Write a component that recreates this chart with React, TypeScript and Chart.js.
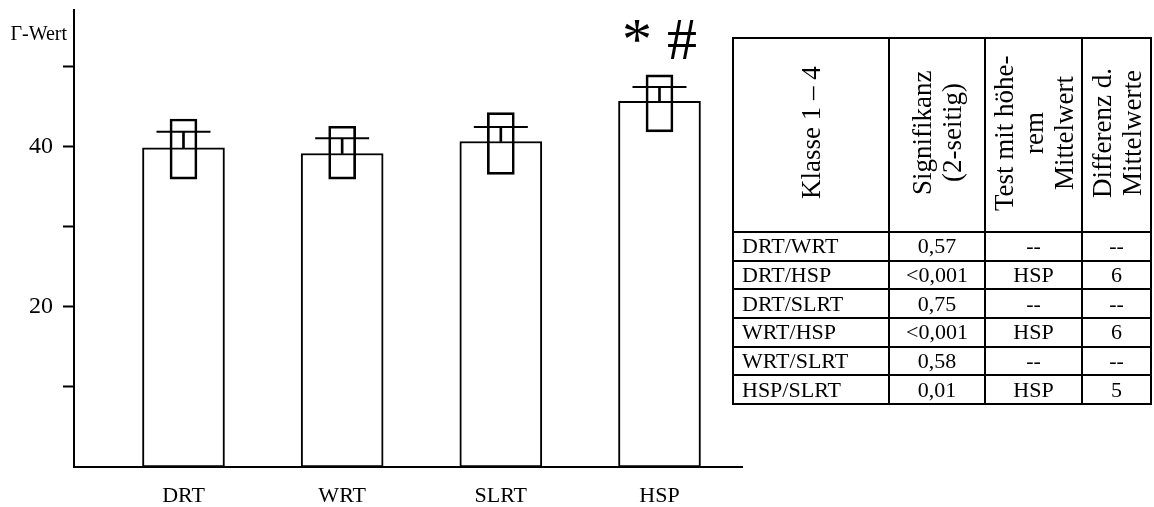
import React, { useEffect, useRef } from 'react';
import { Chart, registerables } from 'chart.js';

Chart.register(...registerables);

const FONT = "'Liberation Serif', 'Times New Roman', Times, serif";

// ---- chart data ----
const categories = ['DRT', 'WRT', 'SLRT', 'HSP'];
const means = [39.8, 39.1, 40.6, 45.6];
const boxLow = [35.9, 35.9, 36.5, 41.8];
const boxHigh = [43.4, 42.5, 44.2, 48.9];
const errorTop = [41.8, 41.0, 42.4, 47.4];
const significance = ['', '', '', '* #'];
const yTicks = [10, 20, 30, 40, 50];
const yTickLabels = [20, 40];
const yAxisTitle = 'Γ-Wert';

// ---- table data ----
const headerLines = [
  ['Klasse 1 – 4'],
  ['Signifikanz', '(2-seitig)'],
  ['Test mit höhe-', 'rem', 'Mittelwert'],
  ['Differenz d.', 'Mittelwerte'],
];
const pairs = ['DRT/WRT', 'DRT/HSP', 'DRT/SLRT', 'WRT/HSP', 'WRT/SLRT', 'HSP/SLRT'];
const significanceValues = ['0,57', '<0,001', '0,75', '<0,001', '0,58', '0,01'];
const higherMean = ['--', 'HSP', '--', 'HSP', '--', 'HSP'];
const meanDiff = ['--', '6', '--', '6', '--', '5'];

const annotatePlugin = {
  id: 'annotate',
  afterDraw(chart: any) {
    const { ctx, scales, chartArea } = chart;
    const x = scales.x;
    const y = scales.y;
    ctx.save();
    ctx.fillStyle = '#000';
    ctx.font = `20px ${FONT}`;
    ctx.textAlign = 'right';
    ctx.textBaseline = 'alphabetic';
    ctx.fillText(yAxisTitle, chartArea.left - 7, 40);
    ctx.font = `60px ${FONT}`;
    ctx.textAlign = 'center';
    significance.forEach((s, i) => {
      if (s) ctx.fillText(s, x.getPixelForValue(i), y.getPixelForValue(boxHigh[i]) - 16);
    });
    ctx.restore();
  },
};

function BarChart() {
  const ref = useRef<HTMLCanvasElement | null>(null);
  useEffect(() => {
    if (!ref.current) return;
    const chart = new Chart(ref.current, {
      type: 'bar',
      data: {
        datasets: [
          {
            type: 'scatter',
            data: errorTop.map((v, i) => ({ x: i, y: v })),
            pointStyle: 'line',
            pointRadius: 27,
            pointHoverRadius: 27,
            borderColor: '#000',
            backgroundColor: '#000',
            borderWidth: 2,
            showLine: false,
            order: 1,
          } as any,
          {
            type: 'bar',
            data: means.map((m, i) => ({ x: i, y: [m, errorTop[i]] })),
            backgroundColor: '#000',
            borderWidth: 0,
            barThickness: 2,
            grouped: false,
            order: 2,
          } as any,
          {
            type: 'bar',
            data: boxLow.map((lo, i) => ({ x: i, y: [lo, boxHigh[i]] })),
            backgroundColor: 'rgba(0,0,0,0)',
            borderColor: '#000',
            borderWidth: 2,
            borderSkipped: false,
            barThickness: 27,
            grouped: false,
            order: 3,
          } as any,
          {
            type: 'bar',
            data: means.map((m, i) => ({ x: i, y: m })),
            backgroundColor: '#fff',
            borderColor: '#000',
            borderWidth: 2,
            borderSkipped: false,
            barThickness: 82,
            grouped: false,
            order: 4,
          } as any,
        ],
      },
      options: {
        animation: false,
        responsive: false,
        maintainAspectRatio: false,
        events: [],
        layout: { autoPadding: false, padding: { left: 0, top: 10, right: 18, bottom: 0 } },
        plugins: { legend: { display: false }, tooltip: { enabled: false } },
        scales: {
          x: {
            type: 'linear',
            min: -0.69,
            max: 3.52,
            offset: false,
            afterBuildTicks: (s: any) => {
              s.ticks = categories.map((_, i) => ({ value: i }));
            },
            afterFit: (s: any) => {
              s.height = 40;
              s.paddingLeft = 0;
              s.paddingRight = 0;
            },
            ticks: {
              callback: (v: any) => categories[v] ?? '',
              font: { family: FONT, size: 22 },
              color: '#000',
              padding: 16,
              autoSkip: false,
              maxRotation: 0,
            },
            grid: { display: false, drawOnChartArea: false, drawTicks: false },
            border: { display: true, color: '#000', width: 2 },
          },
          y: {
            type: 'linear',
            min: 0,
            max: 57,
            afterBuildTicks: (s: any) => {
              s.ticks = yTicks.map((v) => ({ value: v }));
            },
            afterFit: (s: any) => {
              s.width = 74;
              s.paddingTop = 0;
              s.paddingBottom = 0;
            },
            ticks: {
              callback: (v: any) => (yTickLabels.includes(v) ? String(v) : ''),
              font: { family: FONT, size: 24 },
              color: '#000',
              padding: 10,
            },
            grid: {
              drawOnChartArea: false,
              drawTicks: true,
              tickLength: 11,
              tickColor: '#000',
              tickWidth: 2,
            },
            border: { display: true, color: '#000', width: 2 },
          },
        },
      } as any,
      plugins: [annotatePlugin],
    });
    return () => chart.destroy();
  }, []);
  return <canvas ref={ref} width={760} height={507} style={{ width: 760, height: 507, display: 'block' }} />;
}

const cellBorder = '2px solid #000';
const bodyCell = { border: cellBorder, padding: 0, fontSize: 22, lineHeight: '24px', textAlign: 'center' as const, whiteSpace: 'nowrap' as const };

function StatsTable() {
  const colWidths = [156, 96, 97, 69];
  return (
    <table
      style={{
        position: 'absolute',
        left: 732,
        top: 37,
        borderCollapse: 'collapse',
        tableLayout: 'fixed',
        width: 420,
        border: cellBorder,
        fontFamily: FONT,
        color: '#000',
      }}
    >
      <colgroup>
        {colWidths.map((w, i) => (
          <col key={i} style={{ width: w }} />
        ))}
      </colgroup>
      <tbody>
        <tr style={{ height: 192 }}>
          {headerLines.map((lines, i) => (
            <td key={i} style={{ border: cellBorder, padding: 0, textAlign: 'center', verticalAlign: 'middle' }}>
              <div
                style={{
                  display: 'inline-block',
                  writingMode: 'vertical-rl',
                  transform: 'rotate(180deg)',
                  height: 188,
                  textAlign: 'center',
                  fontSize: 27,
                  lineHeight: '30px',
                  whiteSpace: 'nowrap',
                }}
              >
                {lines.map((l, j) => (
                  <React.Fragment key={j}>
                    {j > 0 && <br />}
                    {l}
                  </React.Fragment>
                ))}
              </div>
            </td>
          ))}
        </tr>
        {pairs.map((p, r) => (
          <tr key={r} style={{ height: 28.7 }}>
            <td style={{ ...bodyCell, textAlign: 'left', paddingLeft: 8 }}>{p}</td>
            <td style={bodyCell}>{significanceValues[r]}</td>
            <td style={bodyCell}>{higherMean[r]}</td>
            <td style={bodyCell}>{meanDiff[r]}</td>
          </tr>
        ))}
      </tbody>
    </table>
  );
}

export default function App() {
  return (
    <div style={{ position: 'fixed', left: 0, top: 0, width: 1154, height: 507, background: '#fff', overflow: 'hidden' }}>
      <div style={{ position: 'absolute', left: 0, top: 0 }}>
        <BarChart />
      </div>
      <StatsTable />
    </div>
  );
}
